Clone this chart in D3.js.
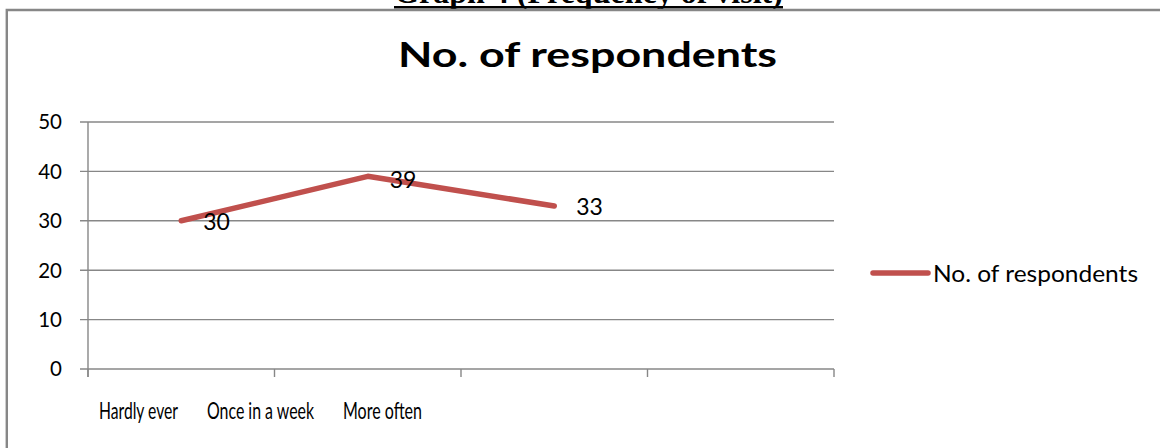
<!DOCTYPE html>
<html>
<head>
<meta charset="utf-8">
<script src="https://cdn.jsdelivr.net/npm/d3@7"></script>
<style>
  html, body { margin: 0; padding: 0; background: #fff; }
  svg { display: block; }
</style>
</head>
<body>
<svg id="chart" width="1160" height="448"></svg>
<script>
// Frequency of visit: number of respondents per category
const categories = ["Hardly ever", "Once in a week", "More often", ""];
const respondents = [30, 39, 33, null];
const yTicks = [0, 10, 20, 30, 40, 50];
const seriesName = "No. of respondents";
const chartTitle = "No. of respondents";
const pageHeading = "Graph 4 (Frequency of visit)";

const svg = d3.select("#chart");
const gridColor = "#878787";
const lineColor = "#C0504D";
const sans = "Lato, 'Open Sans', sans-serif";

// page heading above the chart frame (partially clipped by the top edge)
svg.append("text")
  .attr("x", 588.5).attr("y", 3)
  .attr("text-anchor", "middle")
  .attr("font-family", "'Liberation Serif', 'Times New Roman', serif")
  .attr("font-weight", "bold")
  .attr("font-size", 32)
  .attr("fill", "#000")
  .text(pageHeading);
svg.append("line")
  .attr("x1", 394).attr("x2", 783)
  .attr("y1", 7.3).attr("y2", 7.3)
  .attr("stroke", "#000").attr("stroke-width", 2.5);

// chart frame
svg.append("path")
  .attr("d", "M6.8,448 V10 H1160")
  .attr("fill", "none")
  .attr("stroke", gridColor)
  .attr("stroke-width", 2.4);

// scales
const x = d3.scaleBand().domain(categories).range([88, 834]).paddingInner(0).paddingOuter(0);
const y = d3.scaleLinear().domain([0, 50]).range([369, 122]);
const xLabel = d3.scalePoint().domain(categories.slice(0, 3)).range([138.5, 382.5]);

// horizontal gridlines + y tick marks
svg.append("g").selectAll("line").data(yTicks).join("line")
  .attr("x1", 80).attr("x2", 834)
  .attr("y1", d => y(d)).attr("y2", d => y(d))
  .attr("stroke", gridColor).attr("stroke-width", 1.4);

// y axis line
svg.append("line")
  .attr("x1", 88).attr("x2", 88)
  .attr("y1", y(50)).attr("y2", y(0) + 8)
  .attr("stroke", gridColor).attr("stroke-width", 1.4);

// x tick marks at band boundaries
const bounds = categories.map(c => x(c)).concat([x.range()[1]]);
svg.append("g").selectAll("line").data(bounds).join("line")
  .attr("x1", d => d).attr("x2", d => d)
  .attr("y1", y(0)).attr("y2", y(0) + 8)
  .attr("stroke", gridColor).attr("stroke-width", 1.4);

// y tick labels
svg.append("g").selectAll("text").data(yTicks).join("text")
  .attr("x", 62).attr("y", d => y(d))
  .attr("dy", "0.36em")
  .attr("text-anchor", "end")
  .attr("font-family", sans)
  .attr("font-size", 20.5)
  .attr("fill", "#000")
  .text(d => d);

// x category labels (condensed)
const labelWidths = { "Hardly ever": 79, "Once in a week": 107, "More often": 79 };
svg.append("g").selectAll("text").data(categories.slice(0, 3)).join("text")
  .attr("x", d => xLabel(d)).attr("y", 419)
  .attr("text-anchor", "middle")
  .attr("font-family", sans)
  .attr("font-size", 23)
  .attr("fill", "#000")
  .attr("textLength", d => labelWidths[d])
  .attr("lengthAdjust", "spacingAndGlyphs")
  .text(d => d);

// chart title
svg.append("text")
  .attr("x", 587.5).attr("y", 66.5)
  .attr("text-anchor", "middle")
  .attr("font-family", sans)
  .attr("font-weight", "bold")
  .attr("font-size", 33.5)
  .attr("textLength", 379)
  .attr("lengthAdjust", "spacingAndGlyphs")
  .attr("fill", "#000")
  .text(chartTitle);

// data line
const pts = categories.map((c, i) => ({ c, v: respondents[i] }));
const line = d3.line()
  .defined(d => d.v != null)
  .x(d => x(d.c) + x.bandwidth() / 2)
  .y(d => y(d.v));
svg.append("path")
  .datum(pts)
  .attr("d", line)
  .attr("fill", "none")
  .attr("stroke", lineColor)
  .attr("stroke-width", 5.5)
  .attr("stroke-linecap", "round")
  .attr("stroke-linejoin", "round");

// data labels
svg.append("g").selectAll("text").data(pts.filter(d => d.v != null)).join("text")
  .attr("x", d => x(d.c) + x.bandwidth() / 2 + 22)
  .attr("y", d => y(d.v) + (d.v === 39 ? 3 : 1))
  .attr("dy", "0.36em")
  .attr("font-family", sans)
  .attr("font-size", 23)
  .attr("fill", "#000")
  .text(d => d.v);

// legend
svg.append("line")
  .attr("x1", 873).attr("x2", 928)
  .attr("y1", 273).attr("y2", 273)
  .attr("stroke", lineColor)
  .attr("stroke-width", 5.5)
  .attr("stroke-linecap", "round");
svg.append("text")
  .attr("x", 933).attr("y", 282)
  .attr("font-family", sans)
  .attr("font-size", 23.5)
  .attr("textLength", 205)
  .attr("lengthAdjust", "spacingAndGlyphs")
  .attr("fill", "#000")
  .text(seriesName);
</script>
</body>
</html>
